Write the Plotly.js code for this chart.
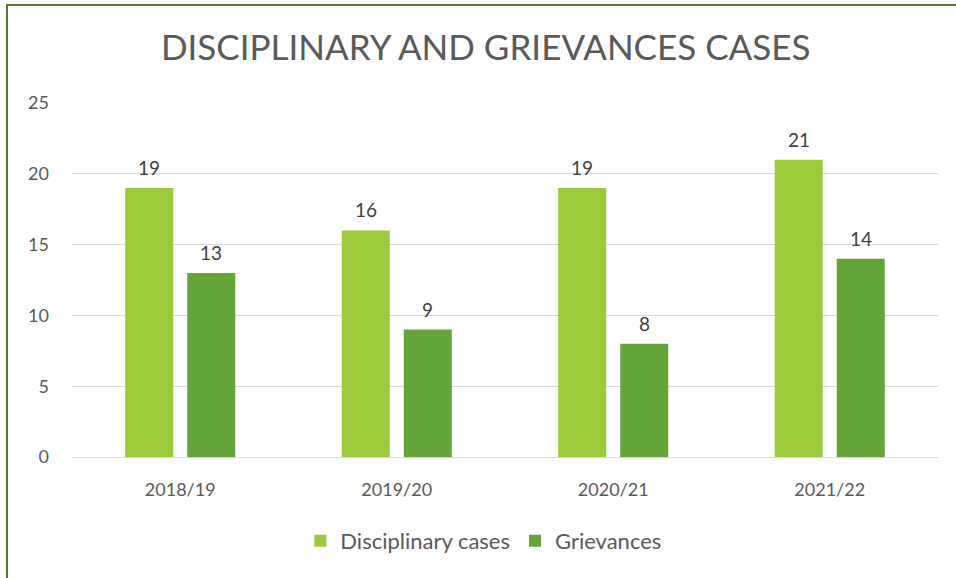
<!DOCTYPE html>
<html>
<head>
<meta charset="utf-8">
<script src="https://cdn.plot.ly/plotly-3.0.1.min.js"></script>
<style>
  html, body { margin: 0; padding: 0; background: #ffffff; }
  #wrap { position: relative; width: 956px; height: 578px; overflow: hidden; }
  #chart { width: 956px; height: 578px; }
  #frame { position: absolute; left: 6px; top: 4px; width: 1200px; height: 1000px;
           border-top: 2px solid #557a2c; border-left: 2px solid #557a2c; pointer-events: none; }
</style>
</head>
<body>
<div id="wrap">
  <div id="chart"></div>
  <div id="frame"></div>
</div>
<script>
const categories = ["2018/19", "2019/20", "2020/21", "2021/22"];
const disciplinary = [19, 16, 19, 21];
const grievances = [13, 9, 8, 14];
const yTicks = [0, 5, 10, 15, 20, 25];

const lightGreen = "#9bcb3b";
const darkGreen = "#63a539";
const fontFam = "Lato, 'Open Sans', sans-serif";

const traces = [
  { type: "bar", name: "Disciplinary cases", x: categories, y: disciplinary,
    marker: { color: lightGreen }, hoverinfo: "x+y+name" },
  { type: "bar", name: "Grievances", x: categories, y: grievances,
    marker: { color: darkGreen }, hoverinfo: "x+y+name" }
];

const annotations = [];
[disciplinary, grievances].forEach((arr, si) => {
  arr.forEach((v, i) => {
    annotations.push({
      x: categories[i], y: v, xref: "x", yref: "y",
      text: String(v), showarrow: false,
      xanchor: "center", yanchor: "bottom",
      xshift: si === 0 ? -31 : 31, yshift: 7,
      font: { family: fontFam, size: 19, color: "#404040" }
    });
  });
});

const layout = {
  width: 956, height: 578,
  margin: { l: 72, r: 18, t: 103, b: 121 },
  paper_bgcolor: "#ffffff", plot_bgcolor: "#ffffff",
  title: {
    text: "DISCIPLINARY AND GRIEVANCES CASES",
    x: 0.508, xref: "container", xanchor: "center",
    y: 1 - 48 / 578, yref: "container", yanchor: "middle",
    font: { family: fontFam, size: 35, color: "#595959" }
  },
  barmode: "group", bargap: 0.427, bargroupgap: 0.226,
  xaxis: {
    type: "category", showgrid: false, zeroline: false,
    showline: true, linecolor: "#d9d9d9", linewidth: 1, ticks: "",
    ticklabelstandoff: 16,
    tickfont: { family: fontFam, size: 18, color: "#595959" }
  },
  yaxis: {
    range: [0, 25], tickvals: yTicks, ticktext: yTicks.map(String),
    showgrid: true, gridcolor: "#d9d9d9", gridwidth: 1,
    zeroline: false, showline: false, ticks: "",
    ticklabelstandoff: 22,
    tickfont: { family: fontFam, size: 18, color: "#595959" }
  },
  showlegend: true,
  legend: {
    orientation: "h", x: 0.475, xanchor: "center", y: -0.237, yanchor: "middle",
    font: { family: fontFam, size: 22, color: "#595959" },
    itemwidth: 30, traceorder: "normal"
  },
  annotations: annotations
};

Plotly.newPlot("chart", traces, layout, { displayModeBar: false, responsive: false });
</script>
</body>
</html>
